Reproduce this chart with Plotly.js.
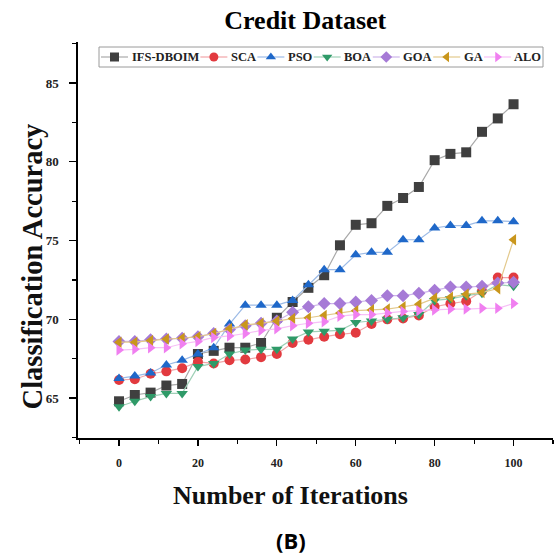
<!DOCTYPE html>
<html>
<head>
<meta charset="utf-8">
<script src="https://cdn.plot.ly/plotly-3.0.1.min.js"></script>
<style>
  html, body { margin: 0; padding: 0; background: #fff; }
  #chart { width: 556px; height: 555px; }
</style>
</head>
<body>
<div id="chart"></div>
<script>
// Iteration counts sampled every 4 iterations
const iterations = [0, 4, 8, 12, 16, 20, 24, 28, 32, 36, 40, 44, 48, 52, 56, 60, 64, 68, 72, 76, 80, 84, 88, 92, 96, 100];

// Classification accuracy per algorithm
const ifsDboim = [64.8, 65.2, 65.35, 65.8, 65.9, 67.8, 68.0, 68.2, 68.2, 68.5, 70.1, 71.1, 72.0, 72.8, 74.7, 76.0, 76.1, 77.2, 77.7, 78.4, 80.1, 80.5, 80.6, 81.9, 82.75, 83.65];
const sca = [66.15, 66.2, 66.55, 66.7, 66.9, 67.3, 67.2, 67.4, 67.45, 67.6, 67.8, 68.5, 68.7, 68.9, 69.05, 69.15, 69.7, 70.0, 70.05, 70.25, 70.8, 71.0, 71.15, 71.8, 72.65, 72.65];
const pso = [66.25, 66.4, 66.6, 67.1, 67.4, 67.8, 68.2, 69.7, 70.9, 70.9, 70.9, 71.2, 72.2, 73.15, 73.15, 74.1, 74.25, 74.25, 75.05, 75.05, 75.8, 75.95, 75.95, 76.25, 76.25, 76.2];
const boa = [64.45, 64.8, 65.1, 65.3, 65.3, 67.0, 67.2, 67.8, 68.05, 68.1, 68.1, 68.75, 69.2, 69.25, 69.3, 69.8, 69.9, 70.0, 70.1, 70.3, 71.2, 71.3, 71.5, 71.65, 72.2, 72.1];
const goa = [68.6, 68.6, 68.7, 68.75, 68.8, 68.9, 69.1, 69.35, 69.6, 69.75, 69.9, 70.45, 70.8, 71.0, 71.0, 71.1, 71.2, 71.5, 71.5, 71.65, 71.85, 72.05, 72.05, 72.1, 72.3, 72.35];
const ga = [68.55, 68.55, 68.65, 68.75, 68.8, 68.9, 69.1, 69.4, 69.65, 69.75, 69.9, 70.05, 70.1, 70.25, 70.4, 70.55, 70.6, 70.65, 70.8, 70.95, 71.35, 71.4, 71.6, 71.7, 71.95, 75.05];
const alo = [68.05, 68.1, 68.2, 68.2, 68.45, 68.6, 68.85, 68.95, 69.1, 69.3, 69.4, 69.6, 69.75, 69.85, 70.2, 70.3, 70.3, 70.4, 70.5, 70.55, 70.6, 70.65, 70.65, 70.7, 70.7, 71.0];

const seriesNames = ['IFS-DBOIM', 'SCA', 'PSO', 'BOA', 'GOA', 'GA', 'ALO'];
const seriesValues = [ifsDboim, sca, pso, boa, goa, ga, alo];
const markerColors = ['#3f3f3f', '#e23a3f', '#1f68c9', '#2f9a68', '#a67ad6', '#c9961c', '#f07ff0'];
const lineColors = ['#a9a9a9', '#f2a5a8', '#9dbbe6', '#9fd0b7', '#cdb5ea', '#e3c98c', '#f7c0f7'];
const symbols = ['square', 'circle', 'triangle-up', 'triangle-down', 'diamond', 'triangle-left', 'triangle-right'];

const serif = 'Liberation Serif, Times New Roman, serif';

// Plot frame in page pixels
const W = 556, H = 555;
const frame = { left: 78, right: 553, top: 42, bottom: 438 };

const traces = seriesNames.map((name, i) => ({
  type: 'scatter',
  mode: 'lines+markers',
  name: name,
  x: iterations,
  y: seriesValues[i],
  showlegend: false,
  line: { color: lineColors[i], width: 1.2 },
  marker: { symbol: symbols[i], color: markerColors[i], size: 10, line: { width: 0 } }
}));

// Single-row legend on a pixel-unit overlay axis pair, laid out from measured text widths
const legendFontPx = 12.5;
const legendFont = 'bold ' + legendFontPx + 'px "Liberation Serif"';
const ctx = document.createElement('canvas').getContext('2d');
ctx.font = legendFont;
const legendBox = { x0: 99, x1: 543, y0: 47, y1: 67 };
const legendMidY = (legendBox.y0 + legendBox.y1) / 2;
const segLen = 27, textPad = 2.5, itemGap = 2.5;

const legendShapes = [{
  type: 'rect', xref: 'x2', yref: 'y2', layer: 'below',
  x0: legendBox.x0, x1: legendBox.x1, y0: legendBox.y0, y1: legendBox.y1,
  line: { color: '#9a9a9a', width: 1 }, fillcolor: 'rgba(0,0,0,0)'
}];
const legendAnnotations = [];
const legendMarkerX = [];
let cursor = legendBox.x0 + 2;
seriesNames.forEach((name, i) => {
  legendShapes.push({
    type: 'line', xref: 'x2', yref: 'y2', layer: 'below',
    x0: cursor, x1: cursor + segLen, y0: legendMidY, y1: legendMidY,
    line: { color: lineColors[i], width: 1.2 }
  });
  legendMarkerX.push(cursor + segLen / 2);
  const tx = cursor + segLen + textPad;
  legendAnnotations.push({
    text: '<b>' + name + '</b>', xref: 'x2', yref: 'y2',
    x: tx - 1, y: legendMidY, xanchor: 'left', yanchor: 'middle',
    showarrow: false,
    font: { family: serif, size: legendFontPx, color: '#222' }
  });
  cursor = tx + ctx.measureText(name).width + itemGap;
});

traces.push({
  type: 'scatter', mode: 'markers', xaxis: 'x2', yaxis: 'y2',
  x: legendMarkerX, y: seriesNames.map(() => legendMidY),
  showlegend: false, hoverinfo: 'skip',
  marker: { symbol: symbols, color: markerColors, size: 9, line: { width: 0 } }
});

const layout = {
  width: W,
  height: H,
  paper_bgcolor: '#ffffff',
  plot_bgcolor: '#ffffff',
  margin: { l: frame.left, r: W - frame.right, t: frame.top, b: H - frame.bottom },
  showlegend: false,
  title: {
    text: '<b>Credit Dataset</b>',
    font: { family: serif, size: 26, color: '#000' },
    xref: 'container', yref: 'container',
    x: 0.549, xanchor: 'center',
    y: 0.964, yanchor: 'middle'
  },
  xaxis: {
    range: [-10.4, 110],
    tickmode: 'linear', tick0: 0, dtick: 20,
    ticks: 'outside', ticklen: 6, tickwidth: 1.3, tickcolor: '#000',
    minor: { dtick: 10, tick0: 0, ticks: 'outside', ticklen: 4, tickwidth: 1.2, tickcolor: '#000', showgrid: false },
    showline: true, linecolor: '#000', linewidth: 1.6,
    showgrid: false, zeroline: false,
    ticklabelstandoff: 7,
    tickfont: { family: serif, size: 12, color: '#222', weight: 'bold' }
  },
  yaxis: {
    range: [62.47, 87.6],
    tickmode: 'linear', tick0: 65, dtick: 5,
    ticks: 'outside', ticklen: 7, tickwidth: 1.3, tickcolor: '#000',
    minor: { dtick: 2.5, tick0: 65, ticks: 'outside', ticklen: 4, tickwidth: 1.2, tickcolor: '#000', showgrid: false },
    showline: true, linecolor: '#000', linewidth: 1.6,
    showgrid: false, zeroline: false,
    ticklabelstandoff: 8,
    tickfont: { family: serif, size: 13, color: '#222', weight: 'bold' }
  },
  xaxis2: { overlaying: 'x', anchor: 'y2', range: [frame.left, frame.right], visible: false, fixedrange: true },
  yaxis2: { overlaying: 'y', anchor: 'x2', range: [frame.bottom, frame.top], visible: false, fixedrange: true },
  shapes: legendShapes,
  annotations: legendAnnotations.concat([
    {
      text: '<b>Number of Iterations</b>',
      xref: 'paper', yref: 'paper',
      x: 0.448, y: -0.146, xanchor: 'center', yanchor: 'middle',
      showarrow: false,
      font: { family: serif, size: 26, color: '#111' }
    },
    {
      text: '<b>Classification Accuracy</b>',
      xref: 'paper', yref: 'paper',
      x: -0.095, y: 0.433, xanchor: 'center', yanchor: 'middle',
      textangle: -90,
      showarrow: false,
      font: { family: serif, size: 28.5, color: '#111' }
    },
    {
      text: '<b>(B)</b>',
      xref: 'paper', yref: 'paper',
      x: 0.448, y: -0.258, xanchor: 'center', yanchor: 'middle',
      showarrow: false,
      font: { family: 'Open Sans, Liberation Sans, sans-serif', size: 22, color: '#000' }
    }
  ])
};

Plotly.newPlot('chart', traces, layout, { displayModeBar: false, staticPlot: true });
</script>
</body>
</html>
